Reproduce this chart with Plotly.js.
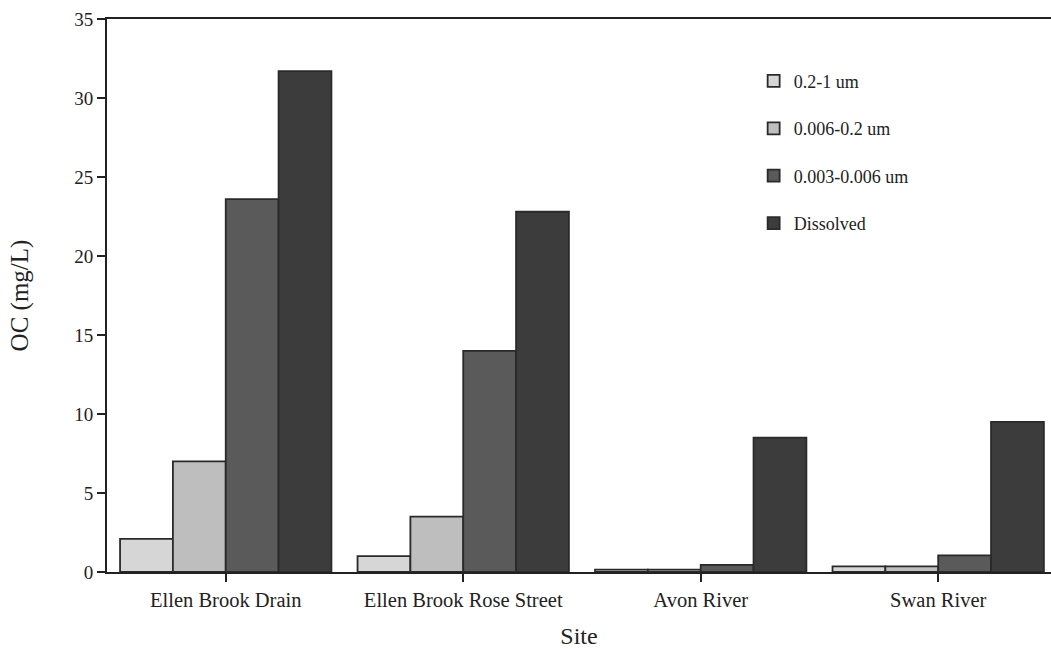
<!DOCTYPE html>
<html>
<head>
<meta charset="utf-8">
<script src="https://cdn.plot.ly/plotly-3.0.1.min.js"></script>
<style>html,body{margin:0;padding:0;background:#fff;}#chart{width:1051px;height:649px;}</style>
</head>
<body>
<div id="chart"></div>
<script>
const sites = ["Ellen Brook Drain", "Ellen Brook Rose Street", "Avon River", "Swan River"];
const seriesNames = ["0.2-1 um", "0.006-0.2 um", "0.003-0.006 um", "Dissolved"];
const frac_02_1 = [2.1, 1.0, 0.15, 0.35];
const frac_0006_02 = [7.0, 3.5, 0.15, 0.35];
const frac_0003_0006 = [23.6, 14.0, 0.45, 1.05];
const dissolved = [31.7, 22.8, 8.5, 9.5];
const yTicks = [0, 5, 10, 15, 20, 25, 30, 35];

const colors = ["#d6d6d6", "#bebebe", "#5a5a5a", "#3c3c3c"];
const seriesValues = [frac_02_1, frac_0006_02, frac_0003_0006, dissolved];

const traces = seriesValues.map((vals, i) => ({
  type: "bar",
  name: seriesNames[i],
  x: sites,
  y: vals,
  legendgroup: "g" + i,
  marker: {color: colors[i], line: {color: "#2a2a2a", width: 1.8}}
}));

const font = "Liberation Serif, Times New Roman, serif";
const layout = {
  width: 1051, height: 649,
  margin: {l: 107, r: 0, t: 19, b: 77},
  paper_bgcolor: "#fff", plot_bgcolor: "#fff",
  barmode: "group", bargap: 0.11, bargroupgap: 0,
  font: {family: font, color: "#222"},
  showlegend: true,
  legend: {x: 0.685, y: 0.921, xanchor: "left", yanchor: "top",
    font: {family: font, size: 18, color: "#222"},
    tracegroupgap: 21, bgcolor: "rgba(0,0,0,0)"},
  xaxis: {
    range: [-0.5, 3.475],
    showline: true, linecolor: "#222", linewidth: 2, mirror: true,
    ticks: "outside", ticklen: 8, tickwidth: 2, tickcolor: "#222",
    tickfont: {family: font, size: 20.5, color: "#222"},
    title: {text: "Site", font: {family: font, size: 24, color: "#222"}, standoff: 18},
    showgrid: false, zeroline: false
  },
  yaxis: {
    range: [0, 35],
    tickvals: yTicks,
    showline: true, linecolor: "#222", linewidth: 2, mirror: true,
    ticks: "outside", ticklen: 8, tickwidth: 2, tickcolor: "#222",
    tickfont: {family: font, size: 19, color: "#222"},
    title: {text: "OC (mg/L)", font: {family: font, size: 25, color: "#222"}, standoff: 38},
    showgrid: false, zeroline: false
  }
};

Plotly.newPlot("chart", traces, layout, {displayModeBar: false, staticPlot: true});
</script>
</body>
</html>
